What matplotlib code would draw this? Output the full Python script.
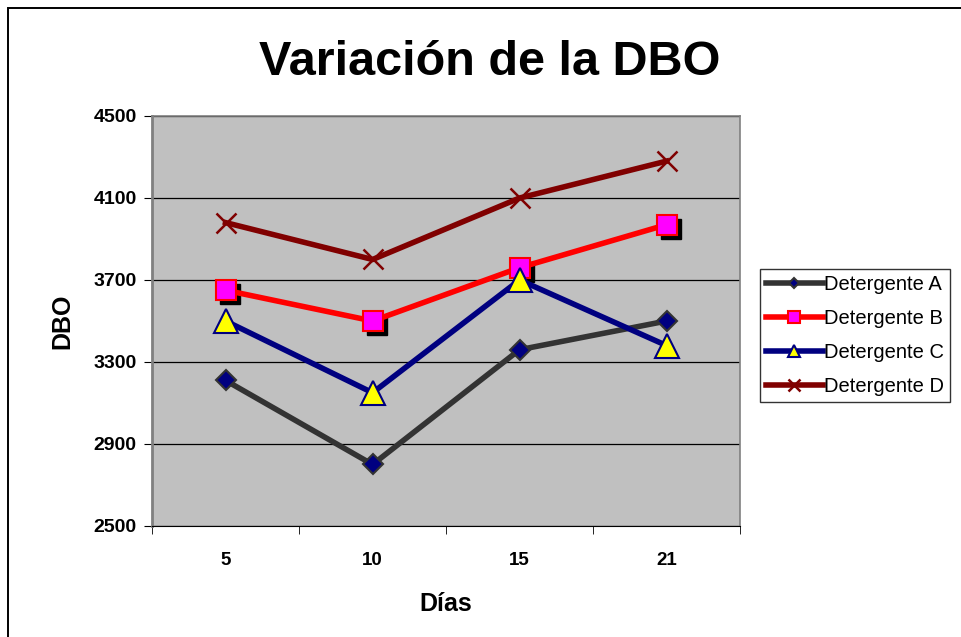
import numpy as np
import matplotlib
matplotlib.use('Agg')
import matplotlib.pyplot as plt
import matplotlib.transforms as mtransforms
from matplotlib.patches import Rectangle

plt.rcParams['font.family'] = ['Liberation Sans', 'DejaVu Sans']

# DATOS
dias = ['5', '10', '15', '21']
det_a = [3210, 2800, 3360, 3500]
det_b = [3650, 3500, 3760, 3970]
det_c = [3500, 3150, 3700, 3380]
det_d = [3980, 3800, 4100, 4280]
y_ticks = [2500, 2900, 3300, 3700, 4100, 4500]

fig = plt.figure(figsize=(9.61, 6.37), dpi=100)
fig.patches.append(Rectangle((0.0088, -0.02), 1.0, 1.0067, transform=fig.transFigure,
                             fill=False, edgecolor='black', linewidth=1.4))
ax = fig.add_axes([0.1582, 0.1743, 0.612, 0.6436])
ax.set_facecolor('#C0C0C0')

x = np.arange(len(dias))

ax.plot(x, det_a, color='#333333', linewidth=4, marker='D', markersize=10,
        markerfacecolor='#000080', markeredgecolor='#333333', markeredgewidth=1.5,
        label='Detergente A', zorder=3)

# sombra de los cuadrados
sombra = mtransforms.offset_copy(ax.transData, fig=fig, x=3, y=-3, units='points')
ax.plot(x, det_b, linestyle='none', marker='s', markersize=15,
        markerfacecolor='black', markeredgecolor='black', transform=sombra, zorder=3)
ax.plot(x, det_b, color='#FF0000', linewidth=4, marker='s', markersize=15,
        markerfacecolor='#FF00FF', markeredgecolor='#FF0000', markeredgewidth=1.5,
        label='Detergente B', zorder=4)

ax.plot(x, det_c, color='#000080', linewidth=4, marker='^', markersize=17,
        markerfacecolor='#FFFF00', markeredgecolor='#000080', markeredgewidth=1.5,
        label='Detergente C', zorder=5)

ax.plot(x, det_d, color='#800000', linewidth=4, marker='x', markersize=15,
        markeredgecolor='#800000', markeredgewidth=1.8,
        label='Detergente D', zorder=6)

ax.set_xlim(-0.5, len(dias) - 0.5)
ax.set_ylim(2500, 4500)
ax.set_yticks(y_ticks)
ax.set_yticklabels([str(v) for v in y_ticks], fontsize=14, fontweight='bold')
ax.set_xticks(x)
ax.set_xticklabels(dias, fontsize=13.5, fontweight='bold')
ax.set_xticks(np.arange(-0.5, len(dias)), minor=True)
ax.tick_params(axis='x', which='major', length=0, pad=19)
ax.tick_params(axis='x', which='minor', length=6, direction='out', color='black')
ax.tick_params(axis='y', length=6, direction='out', pad=5)

ax.grid(axis='y', color='black', linewidth=0.9)
ax.set_axisbelow(True)
for s in ['top', 'right']:
    ax.spines[s].set_color('#808080')
    ax.spines[s].set_linewidth(1.2)
ax.spines['left'].set_color('#808080')
ax.spines['left'].set_linewidth(2)
ax.spines['bottom'].set_color('black')

ax.set_xlabel('Días', fontsize=18, fontweight='bold', labelpad=16)
ax.set_ylabel('DBO', fontsize=18, fontweight='bold', labelpad=14)
fig.text(0.51, 0.902, 'Variación de la DBO', ha='center', va='center',
         fontsize=35, fontweight='bold')

leg = ax.legend(loc='upper left', bbox_to_anchor=(1.034, 0.628), fontsize=14.5,
                frameon=True, fancybox=False, edgecolor='black', borderpad=0.3,
                handlelength=2.8, handletextpad=0.05, labelspacing=0.75,
                borderaxespad=0.0, markerscale=0.55)
leg.get_frame().set_linewidth(1.0)

fig.savefig('out.png', dpi=100)
